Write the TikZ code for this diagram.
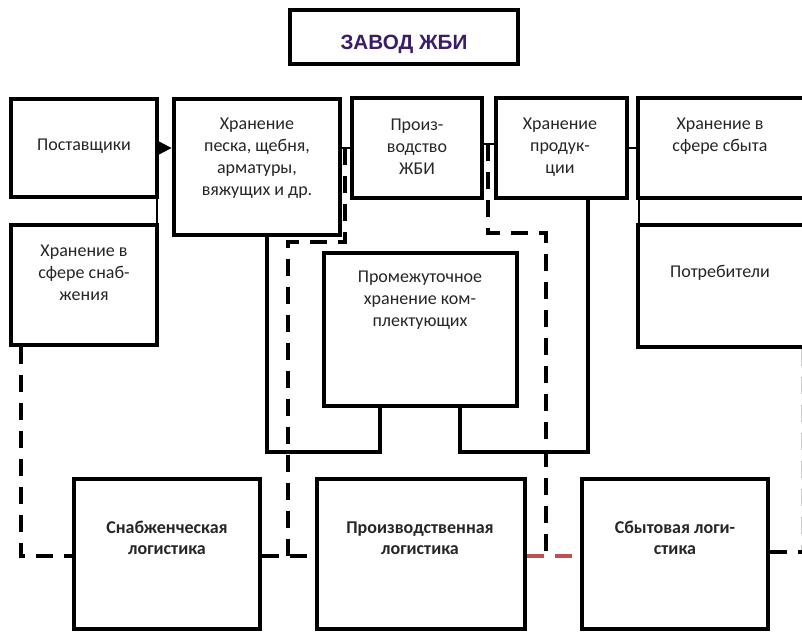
\documentclass[tikz,border=0pt]{standalone}
\usepackage{fontspec}
\setmainfont{Carlito}
\newfontfamily\titlefont{Liberation Sans}
\usetikzlibrary{fit,arrows.meta}
\definecolor{txtc}{HTML}{262626}
\definecolor{titlec}{HTML}{3B1C6B}
\definecolor{redd}{HTML}{C0504D}
\tikzset{
  boxn/.style={draw, line width=3.6pt, inner sep=0pt, outer sep=1.8pt},
  txt/.style={text=txtc, align=center, inner sep=0pt, font=\fontsize{13.5}{16.5}\selectfont},
  btxt/.style={text=txtc, align=center, inner sep=0pt, font=\fontsize{13.5}{16}\selectfont\bfseries},
  dashl/.style={line width=3pt, dash pattern=on 12.75pt off 8.25pt},
  solidl/.style={line width=2.5pt},
  thinl/.style={line width=1.6pt},
}
\newcommand\mkbox[5]{%
  \coordinate (#1-a) at (#2,#3);
  \coordinate (#1-b) at (#4,#5);
  \node[boxn, fit=(#1-a)(#1-b)] (#1) {};}
\begin{document}
\begin{tikzpicture}[x=0.75pt,y=-0.75pt]
\useasboundingbox (0,0) rectangle (802,632);
\fill[white] (0,0) rectangle (802,632);
\clip (0,0) rectangle (802,632);

% boxes
\mkbox{title}{290}{10}{518}{64}
\mkbox{post}{11}{99}{157}{197}
\mkbox{stor}{174}{99}{340}{235}
\mkbox{proizv}{352}{98}{482}{198}
\mkbox{prodn}{496}{98}{627}{198}
\mkbox{sbytst}{638}{98}{815}{198}
\mkbox{potr}{638}{225}{815}{347}
\mkbox{snabst}{11}{225}{157}{345}
\mkbox{interm}{324}{253}{517}{406}
\mkbox{snabL}{74}{479}{260}{629}
\mkbox{prodL}{317}{479}{525}{629}
\mkbox{sbytL}{582}{479}{768}{629}

% texts
\node[text=titlec, inner sep=0pt, font=\titlefont\bfseries\fontsize{15.5}{19}\selectfont] (ttl) at (404,44) {ЗАВОД ЖБИ};
\node[txt] (tpost) at (84,146) {Поставщики};
\node[txt] (tstor) at (257,158) {Хранение\\песка, щебня,\\арматуры,\\вяжущих и др.};
\node[txt] (tproizv) at (417,147) {Произ-\\водство\\ЖБИ};
\node[txt] (tprodn) at (560,147) {Хранение\\продук-\\ции};
\node[txt] (tsbytst) at (720,136) {Хранение в\\сфере сбыта};
\node[txt] (tpotr) at (720,273) {Потребители};
\node[txt] (tsnabst) at (84,273) {Хранение в\\сфере снаб-\\жения};
\node[txt] (tinterm) at (420,300) {Промежуточное\\хранение ком-\\плектующих};
\node[btxt] (tsnabL) at (167,538) {Снабженческая\\логистика};
\node[btxt] (tprodL) at (420,538) {Производственная\\логистика};
\node[btxt] (tsbytL) at (675,538) {Сбытовая логи-\\стика};

% helper coordinates
\coordinate (y148) at (0,148);
\coordinate (y144) at (0,144);
\coordinate (x157) at (157,0);
\coordinate (x639) at (639,0);
\coordinate (s1a) at (267,452);
\coordinate (s1b) at (380,452);
\coordinate (s2a) at (588,452);
\coordinate (s2b) at (460,452);
\coordinate (d1) at (21,556);
\coordinate (j1) at (345,148);
\coordinate (d2a) at (345,242);
\coordinate (d2b) at (288,242);
\coordinate (d2c) at (288,556);
\coordinate (j2) at (488,144);
\coordinate (d3a) at (488,233);
\coordinate (d3b) at (546,233);
\coordinate (d3c) at (546,552);
\coordinate (d4) at (0,556);
\coordinate (d5) at (803,552);

% solid connectors
\draw[thinl, -{Triangle[length=10pt,width=10pt]}] (post.east |- y148) -- (stor.west |- y148);
\draw[thinl] (stor.east |- y148) -- (proizv.west |- y148);
\draw[thinl] (proizv.east |- y144) -- (prodn.west |- y144);
\draw[thinl] (prodn.east |- y148) -- (sbytst.west |- y148);
\draw[thinl] (post.south -| x157) -- (snabst.north -| x157);
\draw[thinl] (sbytst.south -| x639) -- (potr.north -| x639);
\draw[solidl] (stor.south -| s1a) -- (s1a) -- (s1b) -- (interm.south -| s1b);
\draw[solidl] (prodn.south -| s2a) -- (s2a) -- (s2b) -- (interm.south -| s2b);

% dashed connectors
\draw[dashl] (snabst.south -| d1) -- (d1) -- (snabL.west |- d1);
\draw[dashl] (j1) -- (d2a) -- (d2b) -- (d2c);
\draw[dashl] (snabL.east |- d4) -- (prodL.west |- d4);
\draw[dashl] (j2) -- (d3a) -- (d3b) -- (d3c);
\draw[dashl, redd] (prodL.east |- d4) -- (sbytL.west |- d4);
\draw[dashl, gray!40] (potr.south -| d5) -- (d5);
\draw[dashl] (sbytL.east |- d5) -- (d5);
\end{tikzpicture}
\end{document}
